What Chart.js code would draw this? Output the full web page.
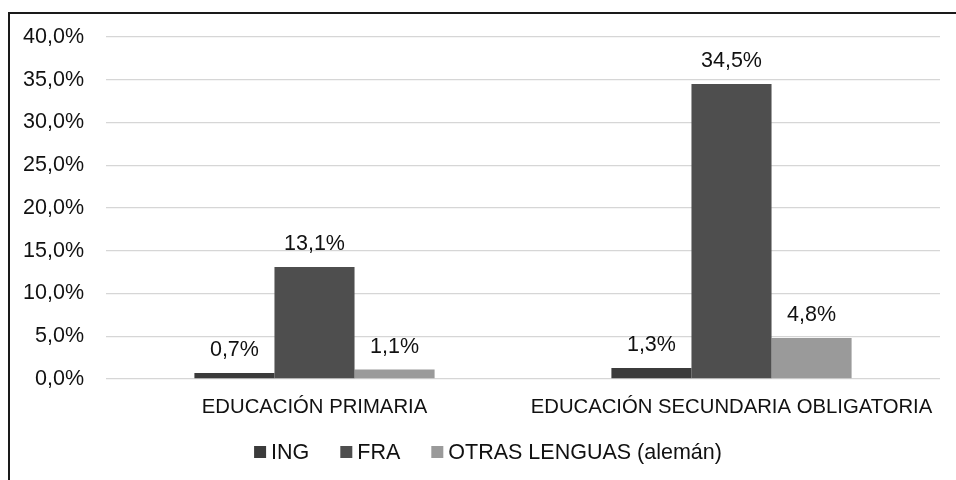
<!DOCTYPE html>
<html>
<head>
<meta charset="utf-8">
<script src="https://cdn.jsdelivr.net/npm/chart.js@4.4.1/dist/chart.umd.min.js"></script>
<style>
  html, body { margin: 0; padding: 0; background: #fff; overflow: hidden; }
  #wrap { position: relative; width: 956px; height: 480px; }
  #frame {
    position: absolute; left: 8px; top: 12px; width: 1000px; height: 1000px;
    border: 2px solid #1a1a1a; pointer-events: none;
  }
</style>
</head>
<body>
<div id="wrap">
  <canvas id="chart" width="956" height="480"></canvas>
  <div id="frame"></div>
</div>
<script>
// categorías y series
const categories = ["EDUCACIÓN PRIMARIA", "EDUCACIÓN SECUNDARIA OBLIGATORIA"];
const seriesNames = ["ING", "FRA", "OTRAS LENGUAS (alemán)"];
const ingValues = [0.7, 1.3];
const fraValues = [13.1, 34.5];
const otrasValues = [1.1, 4.8];
const seriesColors = ["#3b3b3b", "#4e4e4e", "#9a9a9a"];
const yTicks = [0, 5, 10, 15, 20, 25, 30, 35, 40];

const FONT = "'Liberation Sans', Arial, sans-serif";
const fmt = (v) => v.toFixed(1).replace(".", ",") + "%";

// etiquetas de valor encima de cada barra
const valueLabels = {
  id: "valueLabels",
  afterDatasetsDraw(chart) {
    const ctx = chart.ctx;
    ctx.save();
    ctx.font = "21.5px " + FONT;
    ctx.fillStyle = "#111";
    ctx.textAlign = "center";
    ctx.textBaseline = "middle";
    chart.data.datasets.forEach((ds, i) => {
      chart.getDatasetMeta(i).data.forEach((bar, j) => {
        ctx.fillText(fmt(ds.data[j]), bar.x, bar.y - 23);
      });
    });
    ctx.restore();
  },
};

// leyenda inferior (cuadro + texto)
const bottomLegend = {
  id: "bottomLegend",
  afterDraw(chart) {
    const ctx = chart.ctx;
    ctx.save();
    ctx.font = "21.5px " + FONT;
    ctx.textBaseline = "middle";
    const box = 12, gapText = 5, gapItem = 31;
    const items = chart.data.datasets.map((ds) => ({
      label: ds.label,
      color: ds.backgroundColor,
      w: box + gapText + ctx.measureText(ds.label).width,
    }));
    const total = items.reduce((s, it) => s + it.w, 0) + gapItem * (items.length - 1);
    let x = (chart.width - total) / 2 + 10;
    const y = chart.chartArea.bottom + 73;
    items.forEach((it) => {
      ctx.fillStyle = it.color;
      ctx.fillRect(x, y - box / 2, box, box);
      ctx.fillStyle = "#111";
      ctx.textAlign = "left";
      ctx.fillText(it.label, x + box + gapText, y + 1);
      x += it.w + gapItem;
    });
    ctx.restore();
  },
};

const values = [ingValues, fraValues, otrasValues];

new Chart(document.getElementById("chart"), {
  type: "bar",
  data: {
    labels: categories,
    datasets: seriesNames.map((name, i) => ({
      label: name,
      data: values[i],
      backgroundColor: seriesColors[i],
      borderWidth: 0,
      barPercentage: 1,
      categoryPercentage: 0.576,
    })),
  },
  options: {
    responsive: false,
    animation: false,
    layout: { padding: { left: 0, right: 16, top: 37, bottom: 51 } },
    plugins: {
      legend: { display: false },
      tooltip: { enabled: false },
    },
    scales: {
      x: {
        grid: { display: false, drawTicks: false },
        border: { display: false },
        ticks: {
          color: "#111",
          font: { family: FONT, size: 20.3 },
          padding: 16,
          maxRotation: 0,
          autoSkip: false,
        },
        afterFit: (s) => { s.height = 50; s.paddingLeft = 0; s.paddingRight = 0; },
      },
      y: {
        min: 0,
        max: 40,
        afterBuildTicks: (s) => { s.ticks = yTicks.map((v) => ({ value: v })); },
        grid: { color: "#d6d6d6", lineWidth: 1.3, drawTicks: false },
        border: { display: false },
        ticks: {
          color: "#111",
          font: { family: FONT, size: 21.5 },
          padding: 22,
          callback: (v) => fmt(v),
        },
        afterFit: (s) => { s.width = 106; },
      },
    },
  },
  plugins: [valueLabels, bottomLegend],
});
</script>
</body>
</html>
